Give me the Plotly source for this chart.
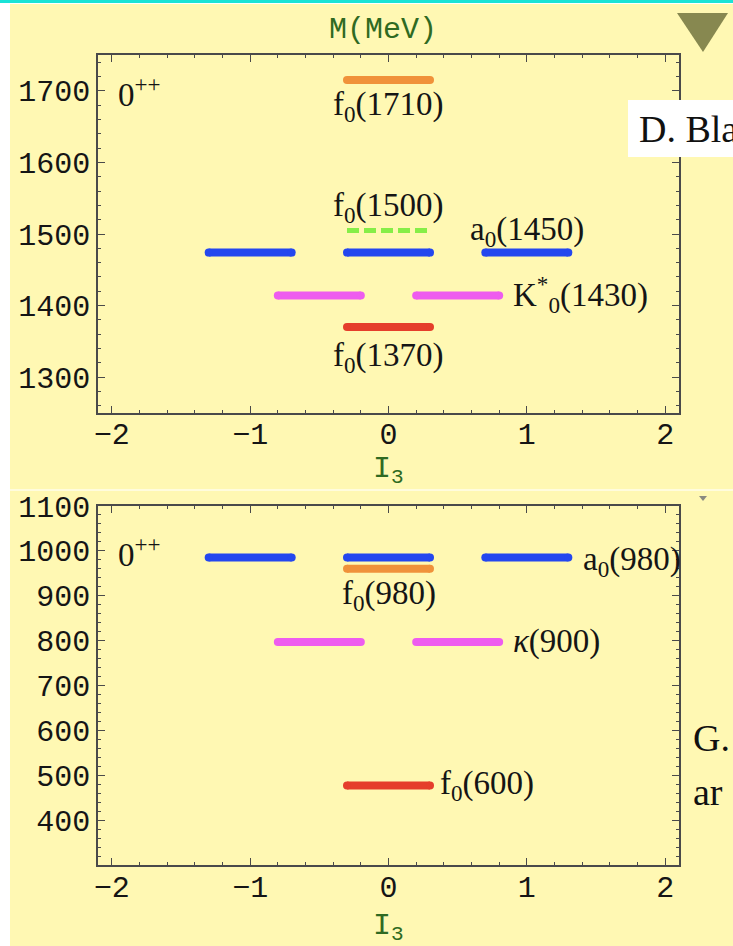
import plotly.graph_objects as go

# ---- data: scalar meson multiplets, mass (MeV) vs isospin projection I3 ----
heavy_labels = ["f<sub>0</sub>(1710)", "f<sub>0</sub>(1500)", "a<sub>0</sub>(1450)",
                "K<sup>*</sup><sub>0</sub>(1430)", "f<sub>0</sub>(1370)"]
heavy_mass = [1715, 1505, 1474, 1414, 1370]
heavy_i3 = [[0], [0], [-1, 0, 1], [-0.5, 0.5], [0]]
heavy_color = ["#f0923a", "#86ee48", "#2447ef", "#ee5cef", "#e53e2b"]

light_labels = ["a<sub>0</sub>(980)", "f<sub>0</sub>(980)", "<i>κ</i>(900)", "f<sub>0</sub>(600)"]
light_mass = [985, 960, 797, 477]
light_i3 = [[-1, 0, 1], [0], [-0.5, 0.5], [0]]
light_color = ["#2447ef", "#f0923a", "#ee5cef", "#e53e2b"]

x_ticks = [-2, -1, 0, 1, 2]
heavy_ticks = [1300, 1400, 1500, 1600, 1700]
light_ticks = [400, 500, 600, 700, 800, 900, 1000, 1100]

HALF = 0.3      # half length of each level bar in I3 units
W, H = 733, 946
BG = "#fff8b3"

fig = go.Figure()


def add_levels(i3_lists, masses, colors, xa, ya, dashed_index=None):
    for k, (xs, m, c) in enumerate(zip(i3_lists, masses, colors)):
        for x0 in xs:
            if k == dashed_index:
                fig.add_trace(go.Scatter(
                    x=[x0 - HALF, x0 + HALF], y=[m, m], mode="lines",
                    line=dict(color=c, width=5, dash="12px,5px"),
                    xaxis=xa, yaxis=ya, hoverinfo="skip", showlegend=False))
            else:
                fig.add_trace(go.Scatter(
                    x=[x0 - HALF, x0 + HALF], y=[m, m], mode="lines+markers",
                    line=dict(color=c, width=8),
                    marker=dict(color=c, size=8, line=dict(width=0)),
                    xaxis=xa, yaxis=ya, hoverinfo="skip", showlegend=False))


add_levels(heavy_i3, heavy_mass, heavy_color, "x", "y", dashed_index=1)
add_levels(light_i3, light_mass, light_color, "x2", "y2")

LBL = dict(family="Liberation Serif", size=33, color="#151515")
MONO = dict(family="Liberation Mono", size=30, color="#151515")
GREEN = dict(family="Liberation Mono", size=30, color="#2f6a22")

ann = []


def label(text, x, y, xr, yr, xanchor="center", xshift=0, yshift=0):
    ann.append(dict(text=text, x=x, y=y, xref=xr, yref=yr, xanchor=xanchor,
                    yanchor="middle", xshift=xshift, yshift=yshift,
                    showarrow=False, font=LBL))


# upper panel labels
label(heavy_labels[0], 0, heavy_mass[0], "x", "y", yshift=-26)
label(heavy_labels[1], 0, heavy_mass[1], "x", "y", yshift=23)
label(heavy_labels[2], 1, heavy_mass[2], "x", "y", yshift=21)
label(heavy_labels[3], 0.5 + HALF, heavy_mass[3], "x", "y", xanchor="left", xshift=12, yshift=1)
label(heavy_labels[4], 0, heavy_mass[4], "x", "y", yshift=-30)
label("0<sup>++</sup>", -2.1, 1700, "x", "y", xanchor="left", xshift=18, yshift=-1)

# lower panel labels
label(light_labels[0], 1 + HALF, light_mass[0], "x2", "y2", xanchor="left", xshift=13, yshift=-4)
label(light_labels[1], 0, light_mass[1], "x2", "y2", yshift=-27)
label(light_labels[2], 0.5 + HALF, light_mass[2], "x2", "y2", xanchor="left", xshift=12)
label(light_labels[3], HALF, light_mass[3], "x2", "y2", xanchor="left", xshift=8)
label("0<sup>++</sup>", -2.1, 1000, "x2", "y2", xanchor="left", xshift=18, yshift=-1)


def px(xp):
    return xp / W


def py(yp):
    return 1 - yp / H


# axis titles
ann.append(dict(text="M(MeV)", x=px(383), y=py(30), xref="paper", yref="paper",
                xanchor="center", yanchor="middle", showarrow=False, font=GREEN))
ann.append(dict(text="I<sub>3</sub>", x=px(388), y=py(470), xref="paper", yref="paper",
                xanchor="center", yanchor="middle", showarrow=False, font=GREEN))
ann.append(dict(text="I<sub>3</sub>", x=px(388), y=py(927), xref="paper", yref="paper",
                xanchor="center", yanchor="middle", showarrow=False, font=GREEN))

# side notes
SIDE = dict(family="Liberation Serif", size=38, color="#111111")
ann.append(dict(text="D. Bla", x=px(637), y=py(129), xref="paper", yref="paper",
                xanchor="left", yanchor="middle", showarrow=False, font=SIDE))
ann.append(dict(text="G.", x=px(691), y=py(738), xref="paper", yref="paper",
                xanchor="left", yanchor="middle", showarrow=False, font=SIDE))
ann.append(dict(text="ar", x=px(691), y=py(792), xref="paper", yref="paper",
                xanchor="left", yanchor="middle", showarrow=False, font=SIDE))

shapes = [
    # page background panel
    dict(type="rect", xref="paper", yref="paper", x0=px(10), x1=1, y0=0, y1=py(4),
         fillcolor=BG, line=dict(width=0), layer="below"),
    dict(type="rect", xref="paper", yref="paper", x0=0, x1=1, y0=py(3), y1=1,
         fillcolor="#19e3d6", line=dict(width=0), layer="below"),
    dict(type="rect", xref="paper", yref="paper", x0=px(10), x1=1, y0=py(491), y1=py(489),
         fillcolor="#ffffff", opacity=0.55, line=dict(width=0), layer="below"),
    # navigation marks
    dict(type="path", xref="paper", yref="paper",
         path=f"M {px(677)} {py(13)} L {px(728)} {py(13)} L {px(703)} {py(52)} Z",
         fillcolor="#878850", line=dict(width=0)),
    dict(type="path", xref="paper", yref="paper",
         path=f"M {px(699)} {py(496)} L {px(707)} {py(496)} L {px(703)} {py(501)} Z",
         fillcolor="#8a8a80", line=dict(width=0)),
    # white box behind the author note
    dict(type="rect", xref="paper", yref="paper", x0=px(628), x1=1, y0=py(157), y1=py(100),
         fillcolor="#ffffff", line=dict(width=0)),
]

axis_common = dict(
    showgrid=False, zeroline=False, showline=True, linecolor="#4a4a4a", linewidth=1.5,
    mirror="allticks", ticks="inside", ticklen=7, tickwidth=1.2, tickcolor="#4a4a4a",
    tickfont=MONO, automargin=False,
)
xdom = [px(98), px(679)]
xminor = dict(dtick=0.2, tick0=0, ticks="inside", ticklen=3.5, tickcolor="#4a4a4a")
yminor = dict(dtick=20, tick0=0, ticks="inside", ticklen=3.5, tickcolor="#4a4a4a")

fig.update_layout(
    width=W, height=H,
    margin=dict(l=0, r=0, t=0, b=0, pad=0, autoexpand=False),
    paper_bgcolor="#ffffff", plot_bgcolor="rgba(0,0,0,0)",
    showlegend=False,
    xaxis=dict(domain=xdom, range=[-2.1, 2.1], anchor="y", tickvals=x_ticks,
               minor=xminor, ticklabelstandoff=-7, **axis_common),
    yaxis=dict(domain=[py(413), py(55)], range=[1250, 1750], anchor="x", tickvals=heavy_ticks,
               minor=yminor, **axis_common),
    xaxis2=dict(domain=xdom, range=[-2.1, 2.1], anchor="y2", tickvals=x_ticks,
                minor=xminor, ticklabelstandoff=-6, **axis_common),
    yaxis2=dict(domain=[py(865), py(506)], range=[300, 1100], anchor="x2", tickvals=light_ticks,
                minor=yminor, **axis_common),
    annotations=ann,
    shapes=shapes,
)

fig.write_html("out.html")
